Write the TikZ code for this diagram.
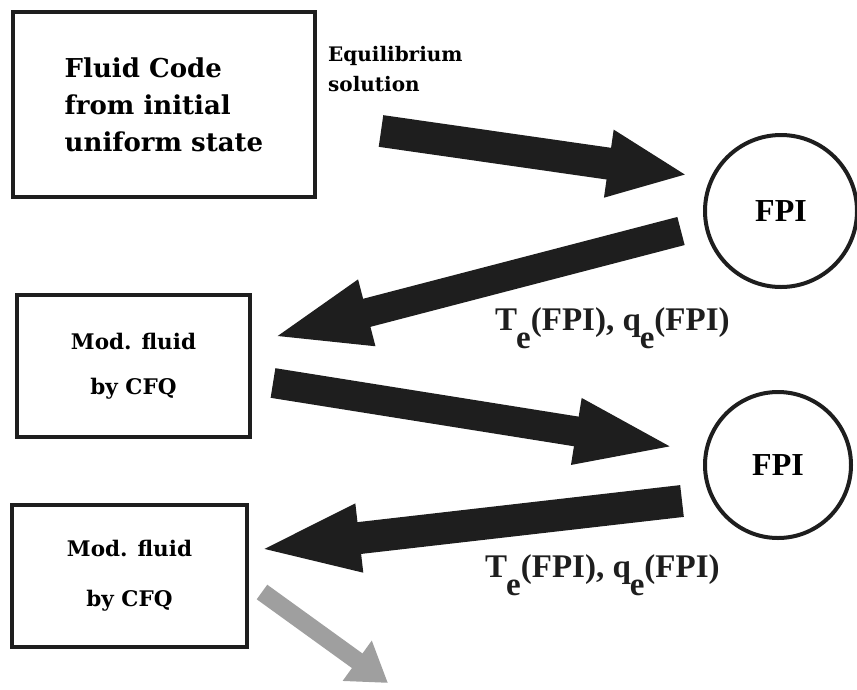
\documentclass[tikz,border=0pt]{standalone}
\usepackage{fontspec}
\setmainfont{DejaVu Serif}
\newfontfamily\lib{Liberation Serif}
\usetikzlibrary{arrows.meta}
\definecolor{ink}{HTML}{1E1E1E}
\begin{document}
\begin{tikzpicture}[x=1pt,y=-1pt,
  box/.style={draw=ink, line width=4.5pt, rectangle, inner sep=0pt, font=\bfseries},
  circ/.style={draw=ink, line width=4pt, circle, inner sep=0pt, font=\lib\bfseries\fontsize{32}{32}\selectfont},
  bigarrow/.style n args={3}{draw=ink, line width=#1pt, -{Triangle[length=#2pt, width=#3pt]}},
  lbl/.style={inner sep=0pt, text=ink, font=\lib\bfseries\fontsize{33}{33}\selectfont},
]
\useasboundingbox (0,0) rectangle (857,689);
% boxes
\node[box, minimum width=302pt, minimum height=185pt, align=left,
      font=\bfseries\fontsize{26}{37}\selectfont] (fc) at (164,104.5)
      {Fluid Code\\from initial\\uniform state};
\node[box, minimum width=233pt, minimum height=142pt, align=center,
      font=\bfseries\fontsize{21.5}{45}\selectfont] (m1) at (133.5,366)
      {Mod. fluid\\by CFQ};
\node[box, minimum width=235pt, minimum height=142pt, align=center,
      font=\bfseries\fontsize{21.5}{50}\selectfont] (m2) at (129.5,576)
      {Mod. fluid\\by CFQ};
% circles
\node[circ, minimum size=152pt] (f1) at (781,211) {FPI};
\node[circ, minimum size=146pt] (f2) at (778,465) {FPI};
% labels
\node[anchor=north west, inner sep=0pt, align=left,
      font=\bfseries\fontsize{20}{30}\selectfont] (eq) at (328,46)
      {Equilibrium\\solution};
\node[lbl, anchor=base west] (l1) at (495,330)
      {T\kern-1pt\raisebox{-18pt}{e}(FPI), q\kern-1pt\raisebox{-18pt}{e}(FPI)};
\node[lbl, anchor=base west] (l2) at (485,577)
      {T\kern-1pt\raisebox{-18pt}{e}(FPI), q\kern-1pt\raisebox{-18pt}{e}(FPI)};
% arrow end points
\coordinate (a1s) at (381,131); \coordinate (a1e) at (688,175);
\coordinate (a2s) at (681,231); \coordinate (a2e) at (270,338);
\coordinate (a3s) at (273,383); \coordinate (a3e) at (680,448);
\coordinate (a4s) at (682,501); \coordinate (a4e) at (255,550);
\coordinate (a5s) at (262,592); \coordinate (a5e) at (388,683);
\draw[bigarrow={32}{80}{62}] (a1s) -- (a1e);
\draw[bigarrow={29}{100}{60}] (a2s) -- (a2e);
\draw[bigarrow={30}{105}{58}] (a3s) -- (a3e);
\draw[bigarrow={32}{105}{60}] (a4s) -- (a4e);
\draw[bigarrow={18}{38}{47}, draw=gray!75, fill=gray!75] (a5s) -- (a5e);
\end{tikzpicture}
\end{document}
